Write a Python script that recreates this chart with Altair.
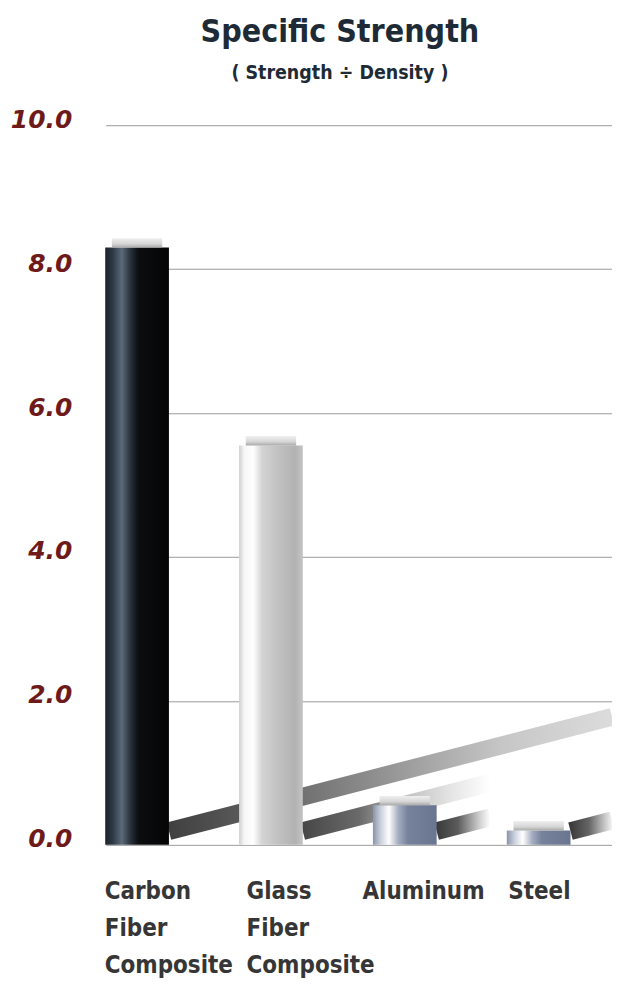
import json
import altair as alt
import pandas as pd

# ---- data ----
materials = ["Carbon Fiber Composite", "Glass Fiber Composite", "Aluminum", "Steel"]
strength = [8.3, 5.55, 0.55, 0.2]
y_ticks = [0, 2, 4, 6, 8, 10]

TITLE = "Specific Strength"
SUBTITLE = "( Strength \u00f7 Density )"

# ---- style constants ----
NARROW = "'DejaVu Sans Condensed', 'Liberation Sans', sans-serif"
HALF = 0.238          # half bar width (x units)
CAP_H = 0.13          # cap thickness (y units)
CAP_IN = 0.05         # cap inset (x units)
SH_Y0 = 0.19          # shadow start height
SH_SLOPE = 0.48       # shadow rise per x unit
shadow_len = [3.31, 1.40, 0.40, 0.31]
X_DOMAIN = [-0.2346, 3.548]

def grad(stops, vertical=False):
    return alt.Gradient(
        gradient="linear",
        stops=[alt.GradientStop(color=c, offset=o) for o, c in stops],
        x1=0, x2=0 if vertical else 1, y1=0, y2=1 if vertical else 0,
    )

bar_grads = [
    grad([(0, "#1b2129"), (0.12, "#2f3a46"), (0.26, "#5b6979"), (0.40, "#27303a"),
          (0.52, "#0b0d10"), (1, "#050505")]),
    grad([(0, "#cfcfcf"), (0.08, "#f6f6f6"), (0.22, "#ffffff"), (0.36, "#d4d4d4"),
          (0.6, "#c2c2c2"), (0.88, "#b2b2b2"), (1, "#c4c4c4")]),
    grad([(0, "#8a93a9"), (0.12, "#c9cfdb"), (0.25, "#ffffff"), (0.40, "#a4acbf"),
          (0.55, "#76819b"), (1, "#6a7590")]),
    grad([(0, "#8a93a9"), (0.12, "#c9cfdb"), (0.25, "#ffffff"), (0.40, "#a4acbf"),
          (0.55, "#76819b"), (1, "#6a7590")]),
]
shadow_grads = [
    grad([(0, "#404040"), (0.2, "#5e5e5e"), (0.45, "#8c8c8c"), (0.75, "#c6c6c6"), (1, "#dcdcdc")]),
    grad([(0, "#474747"), (0.3, "#6a6a6a"), (0.55, "#c0c0c0"), (0.8, "#e6e6e6"), (1, "#ffffff")]),
    grad([(0, "#3a3a3a"), (0.4, "#5c5c5c"), (0.8, "#cfcfcf"), (1, "#ffffff")]),
    grad([(0, "#3a3a3a"), (0.45, "#666666"), (1, "#f4f4f4")]),
]
cap_grad = grad([(0, "#efefef"), (0.6, "#d6d6d6"), (1, "#a9a9a9")], vertical=True)

idx = list(range(len(materials)))
bars = pd.DataFrame({
    "idx": idx,
    "material": materials,
    "value": strength,
})
bars["x0"] = bars["idx"] - HALF
bars["x1"] = bars["idx"] + HALF
bars["cx0"] = bars["x0"] + CAP_IN
bars["cx1"] = bars["x1"] - CAP_IN
bars["base"] = 0.0
bars["cap_top"] = bars["value"] + CAP_H

rows = []
for i, L in zip(idx, shadow_len):
    rows.append({"idx": i, "sx": i + HALF, "sy": SH_Y0})
    rows.append({"idx": i, "sx": i + HALF + L, "sy": SH_Y0 + SH_SLOPE * L})
shadows = pd.DataFrame(rows)

xs = alt.Scale(domain=X_DOMAIN, nice=False, zero=False)
ys = alt.Scale(domain=[0, 10], nice=False, zero=True)

label_expr = "split(" + json.dumps(materials) + "[datum.value], ' ')"
x_axis = alt.Axis(
    values=idx, labelExpr=label_expr, title=None, grid=False, domain=False,
    ticks=False, tickSize=0, labelAlign="left", labelBaseline="top",
    labelPadding=35, labelFont=NARROW, labelFontSize=24, labelFontWeight="bold",
    labelColor="#363636", labelLineHeight=37, labelFlush=False, labelOverlap=False,
    labelBound=False, labelOffset=alt.ExprRef("[-33, -25, -43, -31][datum.value]"),
)
y_axis = alt.Axis(
    values=y_ticks, format=".1f", title=None, grid=True, gridColor="#9b9b9b",
    gridWidth=1, domain=False, ticks=False, tickSize=0, labelPadding=34,
    labelFont="DejaVu Sans", labelFontWeight="bold", labelFontStyle="italic",
    labelFontSize=25, labelColor="#6e1a1a", labelBaseline="alphabetic",
    labelOffset=2, labelFlush=False,
)

def X(f):
    return alt.X(f, type="quantitative", scale=xs, axis=x_axis)

def Y(f):
    return alt.Y(f, type="quantitative", scale=ys, axis=y_axis)

layers = []
for i in idx:
    layers.append(
        alt.Chart(shadows).transform_filter(alt.datum.idx == i)
        .mark_line(stroke=shadow_grads[i], strokeWidth=18, strokeCap="butt", clip=True)
        .encode(x=X("sx"), y=Y("sy"))
    )
for i in idx:
    sub = alt.Chart(bars).transform_filter(alt.datum.idx == i)
    layers.append(
        sub.mark_bar(fill=bar_grads[i])
        .encode(x=X("x0"), x2="x1", y=Y("base"), y2="value")
    )
    layers.append(
        sub.mark_bar(fill=cap_grad)
        .encode(x=X("cx0"), x2="cx1", y=Y("value"), y2="cap_top")
    )

chart = (
    alt.layer(*layers)
    .properties(
        width=508, height=722,
        padding={"left": 2, "top": 6, "right": 0, "bottom": 0},
        background="white",
        title=alt.TitleParams(
            TITLE, subtitle=SUBTITLE, anchor="middle", dx=-19,
            font=NARROW, fontSize=32, fontWeight="bold", color="#1e2a36",
            subtitleFont=NARROW, subtitleFontSize=19.5, subtitleFontWeight="bold",
            subtitleColor="#1e2a36", subtitlePadding=15, offset=24,
        ),
    )
    .configure_view(stroke=None)
)

chart.save("out.html", embed_options={"renderer": "svg", "actions": False})
